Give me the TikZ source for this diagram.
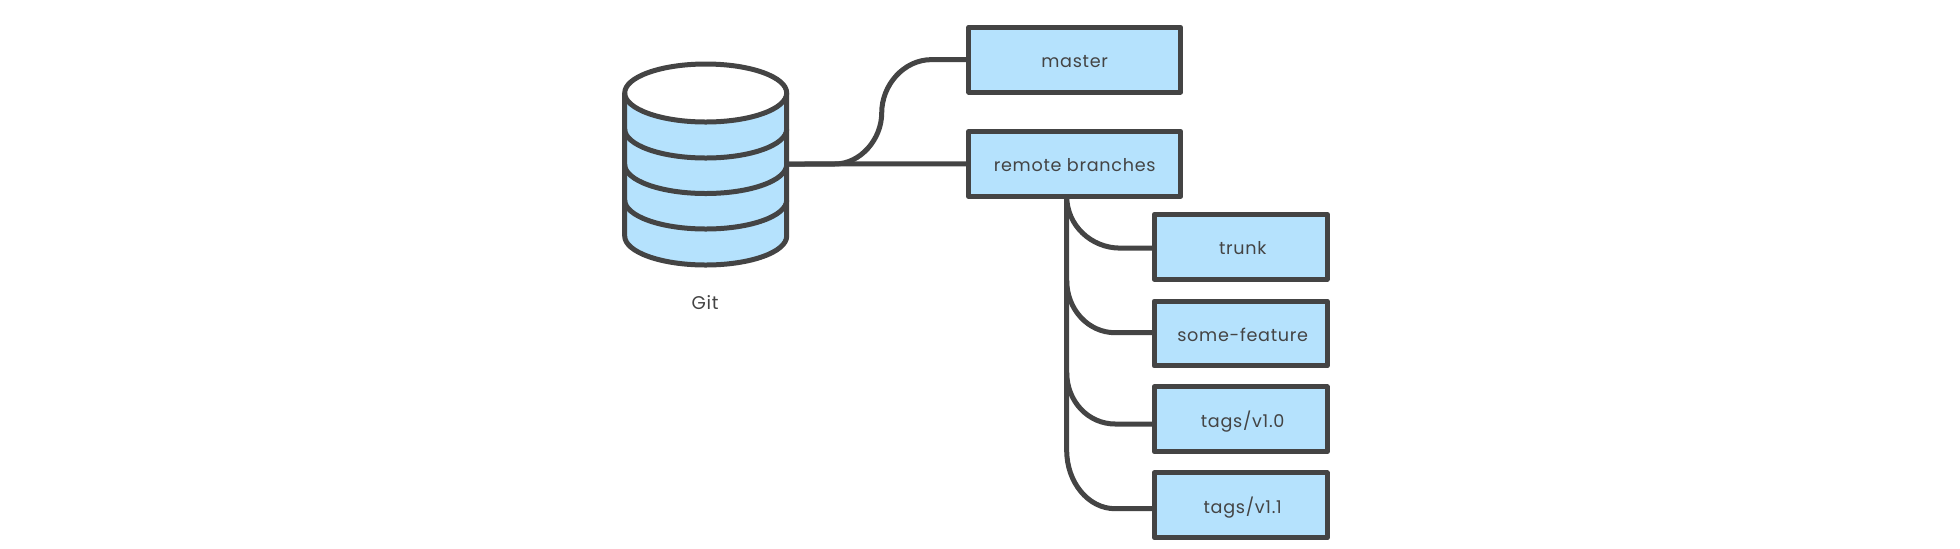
\documentclass[tikz,border=0pt]{standalone}
\usepackage{fontspec}
\setmainfont[LetterSpace=4]{Poppins}
\definecolor{ink}{HTML}{444444}
\definecolor{sky}{HTML}{B5E2FD}
\tikzset{
  wire/.style={draw=ink,line width=2.5pt,line cap=butt,line join=round},
  stroke/.style={draw=ink,line width=2.5pt,line join=round},
  boxwide/.style={draw=ink,fill=sky,line width=2.5pt,line join=round,rectangle,inner sep=0pt,outer sep=0pt,
     minimum width=106pt,minimum height=32.4pt,text=ink,text height=8pt,text depth=0pt,font=\fontsize{8.8}{11}\selectfont},
  boxnarrow/.style={boxwide,minimum width=86.5pt},
  caption/.style={text=ink,font=\fontsize{9.2}{11}\selectfont,inner sep=0pt},
  hub/.style={inner sep=0pt,outer sep=0pt,minimum width=81pt,minimum height=100pt}
}
\begin{document}
\begin{tikzpicture}[x=0.5pt,y=-0.5pt]
\useasboundingbox (0,0) rectangle (1960,548);
\fill[white] (0,0) rectangle (1960,548);
% cylinder
\node[hub] (db) at (705.7,164) {};
\fill[sky] (624.7,93) -- (624.7,236) arc[start angle=180,end angle=360,x radius=40.5pt,y radius=14.5pt] -- (786.7,93) -- cycle;
\draw[stroke,fill=white] (705.7,93) ellipse[x radius=40.5pt,y radius=14.5pt];
\foreach \yy in {129,164.5,200}{
  \draw[stroke] (624.7,\yy) arc[start angle=180,end angle=360,x radius=40.5pt,y radius=14.5pt];
}
\draw[stroke] (624.7,93) -- (624.7,236) arc[start angle=180,end angle=360,x radius=40.5pt,y radius=14.5pt] -- (786.7,93);
\node[caption] (git) at (705,303) {Git};
% boxes
\node[boxwide] (master) at (1074.7,59.6) {master};
\node[boxwide] (rb) at (1074.7,163.9) {remote branches};
\node[boxnarrow] (tr) at (1240.7,246.9) {\hspace*{2pt}trunk};
\node[boxnarrow] (sf) at (1240.7,333.5) {\hspace*{2pt}some-feature};
\node[boxnarrow] (va) at (1240.7,419.2) {\hspace*{2pt}tags/v1.0};
\node[boxnarrow] (vb) at (1240.7,505.3) {\hspace*{2pt}tags/v1.1};
% connectors
\coordinate (bus) at ([xshift=-4pt]rb.south);
\coordinate (trj) at ([yshift=-0.6pt]tr.west);
\coordinate (sfj) at ([yshift=0.4pt]sf.west);
\coordinate (vaj) at ([yshift=-2.4pt]va.west);
\coordinate (vbj) at ([yshift=-1.7pt]vb.west);
\draw[wire] (db.east) -- (rb.west);
\draw[wire] (db.east) -- ([xshift=24pt]db.east) .. controls +(26,0) and +(0,26) .. ([xshift=47.5pt,yshift=-26.7pt]db.east |- master.west)
   .. controls +(0,-28) and +(-28,0) .. ([xshift=-18.5pt]master.west) -- (master.west);
\draw[wire] (bus) .. controls +(0,29) and +(-29,0) .. ([xshift=-17pt]trj) -- (trj);
\draw[wire] ([yshift=-42pt]bus) .. controls +(0,29) and +(-27,0) .. ([xshift=-19.5pt]sfj) -- (sfj);
\draw[wire] ([yshift=-88pt]bus) .. controls +(0,29) and +(-27,0) .. ([xshift=-19.5pt]vaj) -- (vaj);
\draw[wire] (bus) -- ([yshift=-127pt]bus) .. controls +(0,32) and +(-27,0) .. ([xshift=-19.5pt]vbj) -- (vbj);
\end{tikzpicture}
\end{document}
